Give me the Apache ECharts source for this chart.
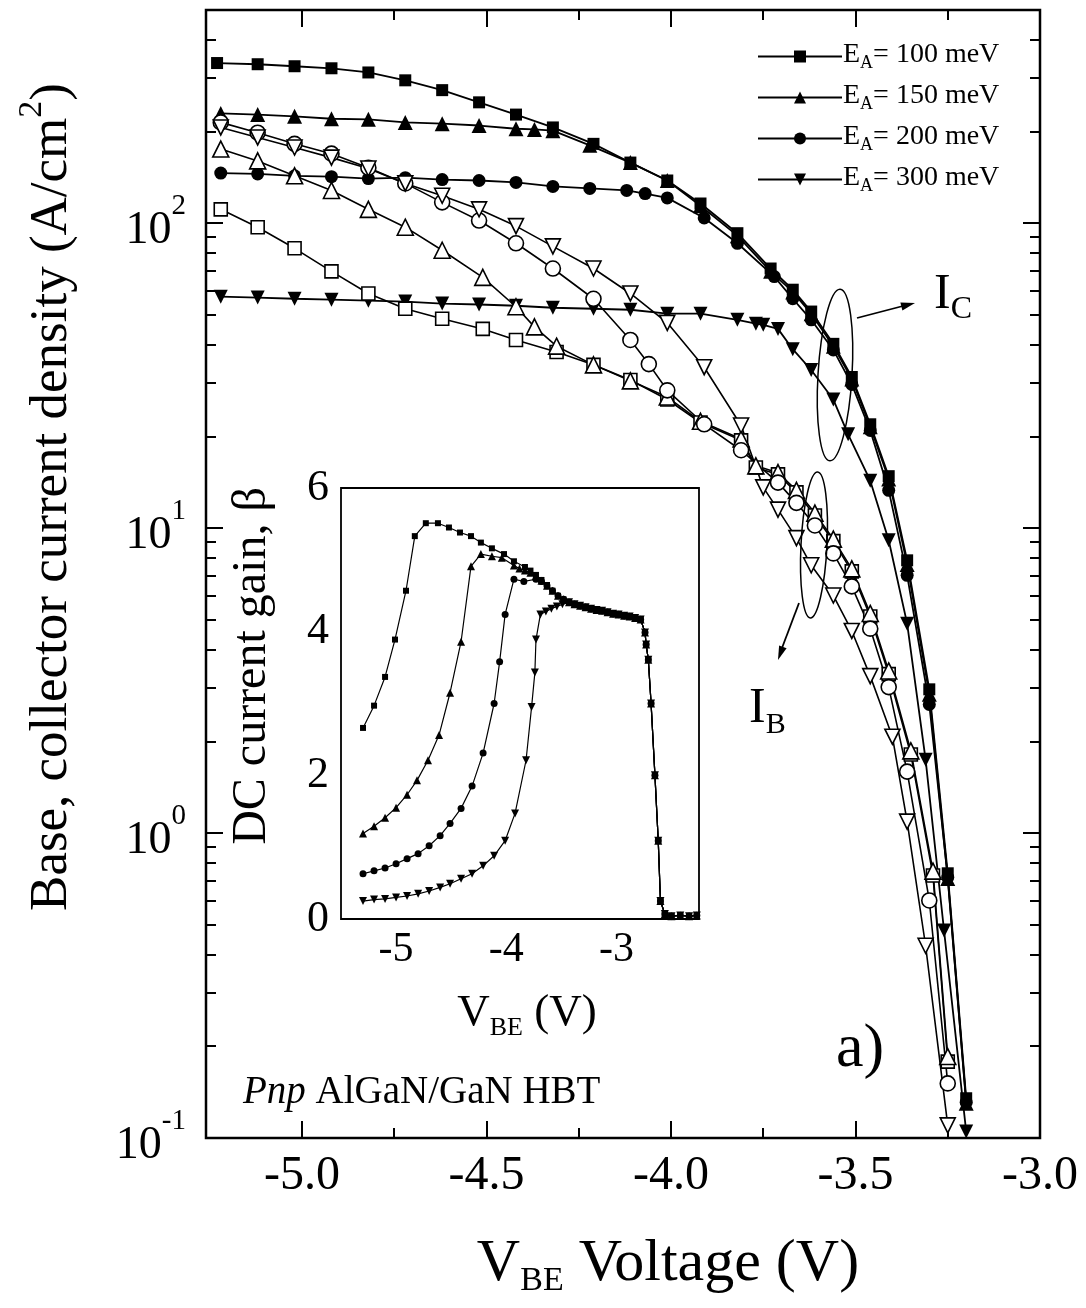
<!DOCTYPE html>
<html><head><meta charset="utf-8">
<script src="https://cdn.jsdelivr.net/npm/echarts@6/dist/echarts.min.js"></script>
<style>html,body{margin:0;padding:0;background:#fff}#c{width:1086px;height:1308px}</style>
</head><body><div id="c"></div>
<script>
// ---------- Main plot data (V_BE in V, current density in A/cm^2) ----------
const icV100 = [-5.23,-5.12,-5.02,-4.92,-4.82,-4.72,-4.62,-4.52,-4.42,-4.32,-4.21,-4.11,-4.01,-3.92,-3.82,-3.73,-3.67,-3.62,-3.56,-3.51,-3.46,-3.41,-3.36,-3.30,-3.25,-3.20];
const icJ100 = [335,332,327,322,312,294,273,249,227,206,182,158,138,116,92.7,71,60.5,51.3,40.2,31.3,21.9,14.8,7.84,2.96,0.738,0.135];
const icV150 = [-5.22,-5.12,-5.02,-4.92,-4.82,-4.72,-4.62,-4.52,-4.42,-4.37,-4.32,-4.22,-4.11,-4.01,-3.92,-3.82,-3.73,-3.67,-3.62,-3.56,-3.51,-3.46,-3.41,-3.36,-3.30,-3.25,-3.20];
const icJ150 = [229,227,224,220,219,214,212,209,204,203,201,180,158,138,114,91,69.5,59.5,50.5,39.5,30.8,21.5,14.5,7.6,2.85,0.71,0.13];
const icV200 = [-5.22,-5.12,-5.02,-4.92,-4.82,-4.72,-4.62,-4.52,-4.42,-4.32,-4.22,-4.12,-4.07,-4.01,-3.91,-3.82,-3.72,-3.67,-3.62,-3.56,-3.51,-3.46,-3.41,-3.36,-3.30,-3.25,-3.20];
const icJ200 = [146,145,143,142,140,141,139,138,136,132,130,128,125,121,104,85.9,66.8,56.5,48.2,38.4,29.6,20.9,13.3,7.0,2.64,0.716,0.131];
const icV300 = [-5.22,-5.12,-5.02,-4.92,-4.82,-4.72,-4.62,-4.52,-4.42,-4.32,-4.21,-4.11,-4.01,-3.92,-3.82,-3.77,-3.75,-3.71,-3.67,-3.62,-3.56,-3.52,-3.46,-3.41,-3.36,-3.31,-3.26,-3.20];
const icJ300 = [57.4,57.0,56.5,56.1,55.7,55.3,54.5,54.1,53.6,52.8,52.4,52.0,50.5,50.5,48.2,46.8,46.4,45.0,38.6,33.0,26.4,20.3,14.3,9.12,4.86,1.74,0.479,0.105];

const ibV100 = [-5.22,-5.12,-5.02,-4.92,-4.82,-4.72,-4.62,-4.51,-4.42,-4.31,-4.21,-4.11,-4.01,-3.92,-3.81,-3.77,-3.71,-3.66,-3.61,-3.56,-3.51,-3.46,-3.41,-3.35,-3.29,-3.25];
const ibJ100 = [111,97,82.7,69.5,58.8,52.4,48.6,45.0,41.4,37.8,34.3,30.6,26.4,22.2,19.4,15.8,15.0,13.1,11.0,9.06,7.21,5.13,3.32,1.81,0.726,0.178];
const ibV150 = [-5.22,-5.12,-5.02,-4.92,-4.82,-4.72,-4.62,-4.51,-4.42,-4.37,-4.31,-4.21,-4.11,-4.01,-3.92,-3.81,-3.77,-3.71,-3.66,-3.61,-3.56,-3.51,-3.46,-3.41,-3.35,-3.29,-3.25];
const ibJ150 = [175,160,143,128,111,97,81.5,66.4,53.2,45.7,39.5,34.3,30.4,26.9,22.4,19.6,16.0,15.2,13.3,11.2,9.2,7.35,5.25,3.4,1.86,0.75,0.185];
const ibV200 = [-5.22,-5.12,-5.02,-4.92,-4.82,-4.72,-4.62,-4.52,-4.42,-4.32,-4.21,-4.11,-4.06,-4.01,-3.91,-3.81,-3.71,-3.66,-3.61,-3.56,-3.51,-3.46,-3.41,-3.36,-3.30,-3.25];
const ibJ200 = [214,198,182,169,152,135,117,102,85.9,71,56.5,41.4,34.5,28.3,21.9,18.0,14.1,12.1,10.2,8.26,6.44,4.68,3.01,1.59,0.601,0.151];
const ibV300 = [-5.22,-5.12,-5.02,-4.92,-4.82,-4.72,-4.62,-4.52,-4.42,-4.32,-4.21,-4.11,-4.01,-3.91,-3.81,-3.75,-3.71,-3.66,-3.62,-3.56,-3.51,-3.46,-3.40,-3.36,-3.31,-3.25];
const ibJ300 = [206,191,177,164,151,135,123,111,97.8,83.9,71,58.8,47.1,33.7,21.7,13.6,11.5,9.27,7.55,6.01,4.6,3.27,2.07,1.09,0.427,0.110];

// ---------- Inset data (DC current gain beta vs V_BE) ----------
const bandV = [-3.43,-3.38,-3.33,-3.28,-3.23,-3.18,-3.13,-3.08,-3.03,-2.98,-2.93,-2.88,-2.83,-2.78,-2.74,-2.73,-2.71,-2.685,-2.65,-2.62,-2.60,-2.56,-2.50,-2.42,-2.34,-2.27];
const bandB = [4.41,4.38,4.36,4.34,4.32,4.30,4.29,4.27,4.25,4.24,4.22,4.21,4.19,4.17,3.99,3.82,3.61,3.0,2.0,1.09,0.25,0.07,0.04,0.05,0.04,0.05];
const bV100 = [-5.30,-5.20,-5.10,-5.01,-4.91,-4.83,-4.73,-4.62,-4.52,-4.42,-4.32,-4.23,-4.13,-4.02,-3.93,-3.83,-3.78,-3.73,-3.68,-3.63,-3.58,-3.53,-3.48];
const bB100 = [2.66,2.97,3.37,3.89,4.57,5.33,5.51,5.51,5.45,5.38,5.33,5.24,5.16,5.08,4.98,4.90,4.85,4.79,4.72,4.65,4.57,4.50,4.45];
const bV150 = [-5.30,-5.20,-5.10,-5.00,-4.90,-4.81,-4.71,-4.61,-4.51,-4.41,-4.32,-4.23,-4.13,-4.04,-3.93,-3.88,-3.83,-3.78,-3.73,-3.68,-3.63,-3.58,-3.53,-3.48];
const bB150 = [1.19,1.29,1.41,1.55,1.73,1.93,2.21,2.56,3.15,3.86,4.91,5.08,5.05,5.03,4.92,4.88,4.85,4.82,4.77,4.71,4.64,4.57,4.50,4.45];
const bV200 = [-5.30,-5.20,-5.10,-5.00,-4.90,-4.80,-4.70,-4.60,-4.51,-4.41,-4.31,-4.21,-4.11,-4.06,-4.01,-3.93,-3.84,-3.73,-3.68,-3.63,-3.58,-3.53,-3.48];
const bB200 = [0.63,0.67,0.71,0.77,0.84,0.91,1.02,1.16,1.33,1.54,1.85,2.31,3.0,3.58,4.24,4.73,4.70,4.73,4.70,4.64,4.57,4.50,4.45];
const bV300 = [-5.30,-5.20,-5.10,-5.00,-4.90,-4.80,-4.70,-4.60,-4.51,-4.41,-4.31,-4.21,-4.11,-4.01,-3.92,-3.82,-3.77,-3.74,-3.73,-3.69,-3.64,-3.59,-3.54,-3.49];
const bB300 = [0.25,0.27,0.28,0.30,0.32,0.35,0.39,0.44,0.49,0.56,0.63,0.74,0.88,1.09,1.47,2.21,2.95,3.43,3.89,4.24,4.28,4.32,4.35,4.38];

// ---------- Tick values ----------
const xMajor = [-5.0,-4.5,-4.0,-3.5,-3.0];
const xMinor = [-4.75,-4.25,-3.75,-3.25];
const yDecades = [-1,0,1,2];
const yMinorVals = [0.2,0.3,0.4,0.5,0.6,0.7,0.8,0.9,2,3,4,5,6,7,8,9,20,30,40,50,60,70,80,90,200,300,400,500];
const insetXMajor = [-5,-4,-3];
const insetXMinor = [-4.5,-3.5,-2.5];
const insetYMajor = [0,2,4,6];
const insetYMinor = [1,3,5];

const FONT = "'Liberation Serif','Times New Roman',serif";
const zip = (a,b) => a.map((v,i) => [v,b[i]]);
const DOWN = 'path://M0,0L10,0L5,9Z';
const LOGMAX = Math.log10(500);

const chart = echarts.init(document.getElementById('c'), null, {renderer:'canvas'});

function filled(name, sym, size, V, J, xi, yi, lw){
  return {type:'line', name, xAxisIndex:xi, yAxisIndex:yi, data:zip(V,J), symbol:sym, symbolSize:size,
    showSymbol:true, lineStyle:{color:'#000', width:lw}, itemStyle:{color:'#000', borderColor:'#000', borderWidth:0},
    emphasis:{disabled:true}, animation:false, z:3};
}
function open(sym, size, V, J){
  return {type:'line', xAxisIndex:0, yAxisIndex:0, data:zip(V,J), symbol:sym, symbolSize:size,
    showSymbol:true, lineStyle:{color:'#000', width:1.6}, itemStyle:{color:'#fff', borderColor:'#000', borderWidth:1.6},
    emphasis:{disabled:true}, animation:false, z:4};
}

const tickStyle = {color:'#000', width:2};
function xAx(grid, min, max, pos, ticks, len, labels, labelFmt, fs, margin){
  return {type:'value', gridIndex:grid, min, max, position:pos,
    axisLine:{show:false, onZero:false}, splitLine:{show:false},
    axisTick:{show:true, inside:true, length:len, lineStyle:tickStyle, customValues:ticks},
    axisLabel:labels ? {show:true, customValues:ticks, formatter:labelFmt, color:'#000', fontFamily:FONT, fontSize:fs, margin} : {show:false}};
}
function yAx(grid, min, max, pos, ticks, len, labels, labelFmt, fs, margin, rich){
  return {type:'value', gridIndex:grid, min, max, position:pos,
    axisLine:{show:false, onZero:false}, splitLine:{show:false},
    axisTick:{show:true, inside:true, length:len, lineStyle:tickStyle, customValues:ticks},
    axisLabel:labels ? {show:true, customValues:ticks, formatter:labelFmt, color:'#000', fontFamily:FONT, fontSize:fs, margin, rich} : {show:false}};
}

const supRich = {
  b:{fontSize:46, fontFamily:FONT, color:'#000', lineHeight:62, verticalAlign:'bottom'},
  s:{fontSize:29, fontFamily:FONT, color:'#000', lineHeight:22, verticalAlign:'top'}
};

const option = {
  backgroundColor:'#fff',
  animation:false,
  grid:[
    {left:206, right:46, top:10, bottom:170, show:true, borderColor:'#000', borderWidth:2.5, backgroundColor:'transparent'},
    {left:341, top:488, width:358, height:431, show:true, borderColor:'#000', borderWidth:1.8, backgroundColor:'#fff', z:1}
  ],
  legend:{
    data:['E100','E150','E200','E300'], orient:'vertical', left:752, top:36,
    itemWidth:84, itemHeight:15, itemGap:10, selectedMode:false,
    formatter: n => '{m|E}{sub|A}{m|= ' + n.slice(1) + ' meV}',
    textStyle:{color:'#000', fontFamily:FONT, fontSize:28, padding:[0,0,0,-4],
      rich:{m:{fontSize:28, fontFamily:FONT, lineHeight:31, verticalAlign:'top'},
            sub:{fontSize:18, fontFamily:FONT, lineHeight:14, verticalAlign:'bottom'}}}
  },
  xAxis:[
    xAx(0,-5.26,-3.0,'bottom',xMajor,17,true,v=>v.toFixed(1),48,14),
    xAx(0,-5.26,-3.0,'bottom',xMinor,10,false),
    xAx(0,-5.26,-3.0,'top',xMajor,17,false),
    xAx(0,-5.26,-3.0,'top',xMinor,10,false),
    xAx(1,-5.5,-2.25,'bottom',insetXMajor,11,true,v=>String(v),42,10),
    xAx(1,-5.5,-2.25,'bottom',insetXMinor,7,false),
    xAx(1,-5.5,-2.25,'top',insetXMajor.concat(insetXMinor),8,false)
  ],
  yAxis:[
    {type:'log', gridIndex:0, min:0.1, max:500, show:false, logBase:10},
    yAx(0,-1,LOGMAX,'left',yDecades,17,true,v=>'{b|10}{s|'+(v===-1?'-1':String(v))+'}',46,20,supRich),
    yAx(0,-1,LOGMAX,'left',yMinorVals.map(v=>Math.log10(v)),10,false),
    yAx(0,-1,LOGMAX,'right',yDecades,17,false),
    yAx(0,-1,LOGMAX,'right',yMinorVals.map(v=>Math.log10(v)),10,false),
    yAx(1,0,6,'left',insetYMajor,13,true,v=>String(v),44,12),
    yAx(1,0,6,'left',insetYMinor,8,false),
    yAx(1,0,6,'right',insetYMajor,13,false),
    yAx(1,0,6,'right',insetYMinor,8,false)
  ],
  series:[
    filled('E100','rect',12,icV100,icJ100,0,0,1.8),
    filled('E150','triangle',15,icV150,icJ150,0,0,1.8),
    filled('E200','circle',13,icV200,icJ200,0,0,1.8),
    filled('E300',DOWN,14,icV300,icJ300,0,0,1.8),
    open('rect',13,ibV100,ibJ100),
    open('triangle',16,ibV150,ibJ150),
    open('circle',15,ibV200,ibJ200),
    open(DOWN,15,ibV300,ibJ300),
    filled('b100','rect',6,bV100.concat(bandV),bB100.concat(bandB),4,5,1.2),
    filled('b150','triangle',8,bV150.concat(bandV),bB150.concat(bandB),4,5,1.2),
    filled('b200','circle',7,bV200.concat(bandV),bB200.concat(bandB),4,5,1.2),
    filled('b300',DOWN,8,bV300.concat(bandV),bB300.concat(bandB),4,5,1.2)
  ],
  graphic:[
    {type:'text', x:47, y:497, rotation:Math.PI/2, style:{
      text:'{m|Base, collector current density (A/cm}{s|2}{m|)}',
      align:'center', verticalAlign:'middle', textAlign:'center', textVerticalAlign:'middle',
      rich:{m:{fontSize:53, fontFamily:FONT, fill:'#000', color:'#000', lineHeight:64, verticalAlign:'bottom'},
            s:{fontSize:34, fontFamily:FONT, fill:'#000', color:'#000', lineHeight:26, verticalAlign:'top'}}}},
    {type:'text', x:668, y:1266, style:{
      text:'{m|V}{s|BE}{m| Voltage (V)}',
      align:'center', verticalAlign:'middle', textAlign:'center', textVerticalAlign:'middle',
      rich:{m:{fontSize:60, fontFamily:FONT, fill:'#000', color:'#000', lineHeight:64, verticalAlign:'top'},
            s:{fontSize:34, fontFamily:FONT, fill:'#000', color:'#000', lineHeight:24, verticalAlign:'bottom'}}}},
    {type:'text', x:252, y:666, rotation:Math.PI/2, style:{
      text:'DC current gain, β', fontSize:48, fontFamily:FONT, fill:'#000',
      align:'center', verticalAlign:'middle', textAlign:'center', textVerticalAlign:'middle'}},
    {type:'text', x:527, y:1016, style:{
      text:'{m|V}{s|BE}{m| (V)}',
      align:'center', verticalAlign:'middle', textAlign:'center', textVerticalAlign:'middle',
      rich:{m:{fontSize:45, fontFamily:FONT, fill:'#000', color:'#000', lineHeight:50, verticalAlign:'top'},
            s:{fontSize:26, fontFamily:FONT, fill:'#000', color:'#000', lineHeight:18, verticalAlign:'bottom'}}}},
    {type:'text', x:243, y:1093, style:{
      text:'{i|Pnp}{m| AlGaN/GaN HBT}',
      align:'left', verticalAlign:'middle', textAlign:'left', textVerticalAlign:'middle',
      rich:{i:{fontSize:39, fontFamily:FONT, fontStyle:'italic', fill:'#000', color:'#000'},
            m:{fontSize:39, fontFamily:FONT, fill:'#000', color:'#000'}}}},
    {type:'text', x:836, y:1050, style:{text:'a)', fontSize:62, fontFamily:FONT, fill:'#000',
      align:'left', verticalAlign:'middle', textAlign:'left', textVerticalAlign:'middle'}},
    {type:'text', x:626, y:540, style:{text:'b)', fontSize:58, fontFamily:FONT, fill:'#000',
      align:'left', verticalAlign:'middle', textAlign:'left', textVerticalAlign:'middle'}},
    {type:'text', x:934, y:298, style:{
      text:'{i|I}{s|C}', align:'left', verticalAlign:'middle', textAlign:'left', textVerticalAlign:'middle',
      rich:{i:{fontSize:50, fontFamily:FONT, fill:'#000', color:'#000', lineHeight:56, verticalAlign:'top'},
            s:{fontSize:32, fontFamily:FONT, fill:'#000', color:'#000', lineHeight:22, verticalAlign:'bottom'}}}},
    {type:'text', x:749, y:712, style:{
      text:'{i|I}{s|B}', align:'left', verticalAlign:'middle', textAlign:'left', textVerticalAlign:'middle',
      rich:{i:{fontSize:50, fontFamily:FONT, fill:'#000', color:'#000', lineHeight:56, verticalAlign:'top'},
            s:{fontSize:30, fontFamily:FONT, fill:'#000', color:'#000', lineHeight:22, verticalAlign:'bottom'}}}},
    {type:'ellipse', x:835, y:375, rotation:-0.06, shape:{cx:0, cy:0, rx:17, ry:86}, style:{fill:'none', stroke:'#000', lineWidth:1.5}, z:10},
    {type:'ellipse', x:814, y:545, rotation:-0.05, shape:{cx:0, cy:0, rx:13, ry:73}, style:{fill:'none', stroke:'#000', lineWidth:1.5}, z:10},
    {type:'line', shape:{x1:857, y1:318, x2:903, y2:306}, style:{stroke:'#000', lineWidth:1.8}, z:10},
    {type:'polygon', shape:{points:[[915,303],[902.4,310.4],[900.4,302.6]]}, style:{fill:'#000'}, z:10},
    {type:'line', shape:{x1:799, y1:603, x2:782, y2:648}, style:{stroke:'#000', lineWidth:1.8}, z:10},
    {type:'polygon', shape:{points:[[778,660],[786.6,648.3],[779.1,645.5]]}, style:{fill:'#000'}, z:10}
  ]
};
chart.setOption(option);
</script>
</body></html>
